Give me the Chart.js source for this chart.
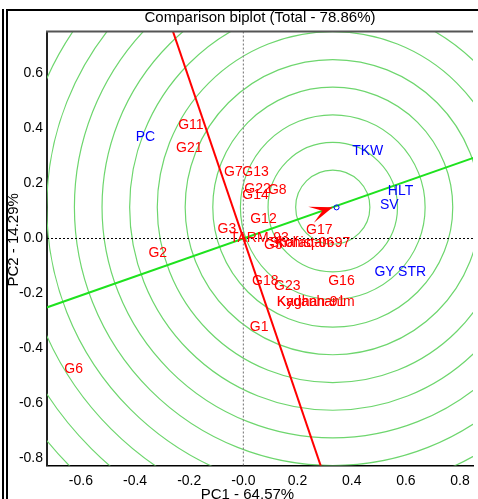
<!DOCTYPE html>
<html>
<head>
<meta charset="utf-8">
<script src="https://cdn.jsdelivr.net/npm/chart.js@4.4.1/dist/chart.umd.min.js"></script>
<style>
  html, body { margin: 0; padding: 0; background: #fff; }
  #wrap { width: 478px; height: 499px; }
</style>
</head>
<body>
<div id="wrap"><canvas id="c" width="478" height="499"></canvas></div>
<script>
// ---------- data ----------
const chartTitle = 'Comparison biplot (Total - 78.86%)';
const xAxisTitle = 'PC1 - 64.57%';
const yAxisTitle = 'PC2 - 14.29%';

const xTickVals = [-0.6, -0.4, -0.2, 0, 0.2, 0.4, 0.6, 0.8];
const xTickLabels = ['-0.6', '-0.4', '-0.2', '-0.0', '0.2', '0.4', '0.6', '0.8'];
const yTickVals = [0.6, 0.4, 0.2, 0, -0.2, -0.4, -0.6, -0.8];
const yTickLabels = ['0.6', '0.4', '0.2', '0.0', '-0.2', '-0.4', '-0.6', '-0.8'];

const genotypes = ['G11', 'G21', 'G7', 'G13', 'G22', 'G8', 'G14', 'G12', 'G3', 'TARM-93', 'G5',
  'Shafaq-06', 'Kohistan-97', 'G17', 'G18', 'G23', 'G16', 'Kaghan-91', 'Kydanhanim', 'G1', 'G6', 'G2'];
const genoPC1 = [-0.194, -0.200, -0.037, 0.045, 0.052, 0.125, 0.045, 0.074, -0.061, 0.059, 0.111,
  0.216, 0.257, 0.280, 0.081, 0.162, 0.362, 0.250, 0.267, 0.058, -0.627, -0.316];
const genoPC2 = [0.413, 0.329, 0.242, 0.242, 0.180, 0.176, 0.158, 0.069, 0.033, 0.002, -0.024,
  -0.016, -0.016, 0.029, -0.155, -0.173, -0.155, -0.233, -0.233, -0.322, -0.475, -0.053];

const traits = ['PC', 'TKW', 'HLT', 'SV', 'GY', 'STR'];
const traitPC1 = [-0.362, 0.459, 0.580, 0.539, 0.521, 0.623];
const traitPC2 = [0.367, 0.316, 0.171, 0.122, -0.124, -0.124];

const idealPoint = [0.330, 0.114];   // centre of concentric circles / arrow tip
const idealMarker = [0.344, 0.113];  // small "o" marker
const circleRadii = [0.137, 0.239, 0.341, 0.443, 0.545, 0.648, 0.750, 0.852, 0.954, 1.056, 1.158, 1.261, 1.363, 1.465];

const xRange = [-0.7252, 0.8478];
const yRange = [-0.8255, 0.7509];

// ---------- derived helpers ----------
const FONT = "'Liberation Sans', Arial, Helvetica, sans-serif";
Chart.defaults.font.family = FONT;

const ix = idealPoint[0], iy = idealPoint[1];
const aeaLine = [{x: -3 * ix, y: -3 * iy}, {x: 3 * ix, y: 3 * iy}];
const perpLine = [{x: -3 * iy, y: 3 * ix}, {x: 3 * iy, y: -3 * ix}];
const hZero = [{x: xRange[0], y: 0}, {x: xRange[1], y: 0}];
const vZero = [{x: 0, y: yRange[0]}, {x: 0, y: yRange[1]}];

const framePlugin = {
  id: 'frame',
  beforeDraw(chart) {
    const ctx = chart.ctx;
    ctx.save();
    ctx.fillStyle = '#fff';
    ctx.fillRect(0, 0, chart.width, chart.height);
    ctx.strokeStyle = '#000';
    ctx.lineWidth = 2;
    ctx.beginPath();
    ctx.moveTo(3, 9); ctx.lineTo(3, chart.height);
    ctx.moveTo(7, 10); ctx.lineTo(7, chart.height);
    ctx.moveTo(6, 10); ctx.lineTo(chart.width, 10);
    ctx.stroke();
    ctx.restore();
  }
};

const circlesPlugin = {
  id: 'circles',
  beforeDatasetsDraw(chart) {
    const {ctx, chartArea, scales} = chart;
    const xs = scales.x, ys = scales.y;
    const cx = xs.getPixelForValue(ix), cy = ys.getPixelForValue(iy);
    const pxPerUnit = xs.getPixelForValue(1) - xs.getPixelForValue(0);
    ctx.save();
    ctx.beginPath();
    ctx.rect(chartArea.left, chartArea.top, chartArea.right - chartArea.left, chartArea.bottom - chartArea.top);
    ctx.clip();
    ctx.strokeStyle = 'rgb(110,214,110)';
    ctx.lineWidth = 1.2;
    circleRadii.forEach(r => {
      ctx.beginPath();
      ctx.arc(cx, cy, r * pxPerUnit, 0, Math.PI * 2);
      ctx.stroke();
    });
    ctx.restore();
  }
};

const overlayPlugin = {
  id: 'overlay',
  afterDatasetsDraw(chart) {
    const {ctx, chartArea, scales} = chart;
    const xs = scales.x, ys = scales.y;
    ctx.save();
    // top border of plot
    ctx.strokeStyle = '#555';
    ctx.lineWidth = 2;
    ctx.beginPath();
    ctx.moveTo(chartArea.left - 1, chartArea.top - 0.5);
    ctx.lineTo(chartArea.right, chartArea.top - 0.5);
    ctx.stroke();

    // arrow head pointing to ideal point along AEA direction
    const tx = xs.getPixelForValue(ix), ty = ys.getPixelForValue(iy);
    const ox = xs.getPixelForValue(0), oy = ys.getPixelForValue(0);
    let dx = tx - ox, dy = ty - oy;
    const len = Math.hypot(dx, dy); dx /= len; dy /= len;
    const px = -dy, py = dx;
    const L = 23, W = 8.5, N = 11;
    ctx.fillStyle = '#ff0000';
    ctx.beginPath();
    ctx.moveTo(tx, ty);
    ctx.lineTo(tx - dx * L + px * W, ty - dy * L + py * W);
    ctx.lineTo(tx - dx * N, ty - dy * N);
    ctx.lineTo(tx - dx * L - px * W, ty - dy * L - py * W);
    ctx.closePath();
    ctx.fill();

    // labels
    ctx.font = '14px ' + FONT;
    ctx.textAlign = 'center';
    ctx.textBaseline = 'middle';
    ctx.fillStyle = '#ff0000';
    genotypes.forEach((g, i) => {
      ctx.fillText(g, xs.getPixelForValue(genoPC1[i]), ys.getPixelForValue(genoPC2[i]));
    });
    ctx.fillStyle = '#0000ff';
    traits.forEach((t, i) => {
      ctx.fillText(t, xs.getPixelForValue(traitPC1[i]), ys.getPixelForValue(traitPC2[i]));
    });

    // axis titles
    ctx.fillStyle = '#000';
    ctx.font = '15px ' + FONT;
    ctx.fillText(xAxisTitle, xs.getPixelForValue(0.015), 494.5);
    ctx.translate(14, ys.getPixelForValue(-0.005));
    ctx.rotate(-Math.PI / 2);
    ctx.fillText(yAxisTitle, 0, 0);
    ctx.restore();
  }
};

new Chart(document.getElementById('c'), {
  type: 'scatter',
  data: {
    datasets: [
      {data: perpLine, showLine: true, borderColor: '#ff0000', borderWidth: 2, pointRadius: 0, order: 1},
      {data: idealMarker ? [{x: idealMarker[0], y: idealMarker[1]}] : [], showLine: false, pointRadius: 2.5,
        borderColor: '#0000ff', backgroundColor: 'rgba(0,0,0,0)', borderWidth: 1, order: 2},
      {data: aeaLine, showLine: true, borderColor: '#1ee21e', borderWidth: 2, pointRadius: 0, order: 3},
      {data: hZero, showLine: true, borderColor: '#000', borderWidth: 1, borderDash: [2, 2], pointRadius: 0, order: 4},
      {data: vZero, showLine: true, borderColor: '#888', borderWidth: 1.2, borderDash: [2, 2], pointRadius: 0, order: 5}
    ]
  },
  options: {
    responsive: false,
    animation: false,
    devicePixelRatio: 1,
    layout: {padding: 0},
    plugins: {
      legend: {display: false},
      tooltip: {enabled: false},
      title: {
        display: true, text: chartTitle, fullSize: false, color: '#000',
        font: {size: 15, weight: 'normal'}, padding: {top: 9, bottom: 5}
      }
    },
    scales: {
      x: {
        type: 'linear', position: 'bottom', min: xRange[0], max: xRange[1],
        afterBuildTicks(scale) { scale.ticks = xTickVals.map(v => ({value: v})); },
        afterFit(scale) { scale.height = 33.5; },
        ticks: {
          callback: (v, i) => xTickLabels[i], color: '#000', font: {size: 14},
          padding: 7, autoSkip: false, maxRotation: 0, minRotation: 0
        },
        grid: {display: false, drawTicks: false},
        border: {display: true, color: '#000', width: 1.5}
      },
      y: {
        type: 'linear', position: 'left', min: yRange[0], max: yRange[1],
        afterBuildTicks(scale) { scale.ticks = yTickVals.map(v => ({value: v})); },
        afterFit(scale) { scale.width = 47; },
        ticks: {
          callback: (v, i) => yTickLabels[i], color: '#000', font: {size: 14},
          padding: 4, autoSkip: false
        },
        grid: {display: false, drawTicks: false},
        border: {display: true, color: '#222', width: 2}
      }
    }
  },
  plugins: [framePlugin, circlesPlugin, overlayPlugin]
});
</script>
</body>
</html>
